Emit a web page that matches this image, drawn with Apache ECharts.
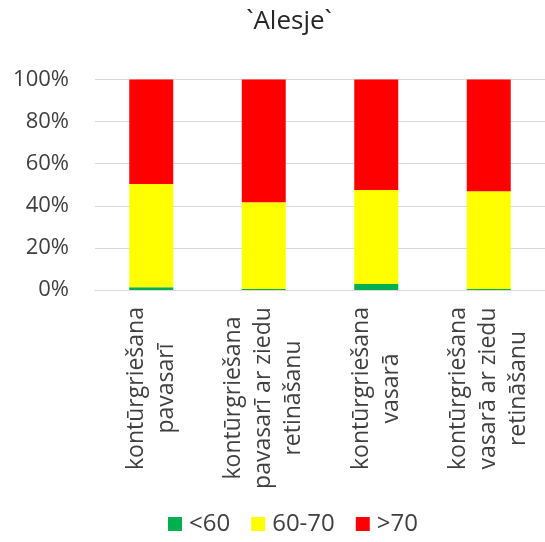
<!DOCTYPE html>
<html>
<head>
<meta charset="utf-8">
<script src="https://cdn.jsdelivr.net/npm/echarts@6/dist/echarts.min.js"></script>
<style>
  html, body { margin: 0; padding: 0; background: #fff; }
  #chart { width: 545px; height: 542px; }
</style>
</head>
<body>
<div id="chart"></div>
<script>
// Share of measurements per class, percent of total for each treatment
const categories = [
  ['kontūrgriešana', 'pavasarī'],
  ['kontūrgriešana', 'pavasarī ar ziedu', 'retināšanu'],
  ['kontūrgriešana', 'vasarā'],
  ['kontūrgriešana', 'vasarā ar ziedu', 'retināšanu']
];
const seriesNames = ['<60', '60-70', '>70'];
const below60 = [1.3, 0.5, 2.8, 0.5];
const from60to70 = [49.1, 41.2, 44.7, 46.4];
const above70 = [49.6, 58.3, 52.5, 53.1];
const yTicks = [0, 20, 40, 60, 80, 100];

const FONT = '"Open Sans", "DejaVu Sans", sans-serif';
const TEXT_COLOR = '#404040';
const LABEL_SIZE = 23;

// Measure each category's longest line so the lines of a label can be centred on each other
const ctx = document.createElement('canvas').getContext('2d');
ctx.font = LABEL_SIZE + 'px ' + FONT;
const rich = {};
categories.forEach((lines, i) => {
  const w = Math.max.apply(null, lines.map(s => ctx.measureText(s).width));
  rich['c' + i] = {
    width: Math.ceil(w),
    align: 'center',
    fontSize: LABEL_SIZE,
    fontFamily: FONT,
    color: TEXT_COLOR,
    lineHeight: 30
  };
});
const catKeys = categories.map((_, i) => String(i));

const chart = echarts.init(document.getElementById('chart'), null, { renderer: 'canvas' });
chart.setOption({
  animation: false,
  backgroundColor: '#ffffff',
  title: {
    text: '`Alesje`',
    left: 284,
    top: 4,
    textAlign: 'center',
    textStyle: { fontFamily: FONT, fontSize: 26, fontWeight: 'normal', color: '#262626' }
  },
  legend: {
    data: seriesNames,
    bottom: 1,
    left: 163,
    icon: 'rect',
    itemWidth: 14,
    itemHeight: 14,
    itemGap: 21,
    textStyle: { fontFamily: FONT, fontSize: 24, color: TEXT_COLOR, padding: [0, 0, 0, 2] }
  },
  grid: { left: 95, right: -4, top: 79.5, bottom: 252, containLabel: false },
  xAxis: {
    type: 'category',
    data: catKeys,
    axisLine: { lineStyle: { color: '#d9d9d9', width: 1 } },
    axisTick: { show: false },
    axisLabel: {
      rotate: 90,
      margin: 17,
      interval: 0,
      formatter: (v) => {
        const i = Number(v);
        return categories[i].map(s => '{c' + i + '|' + s + '}').join('\n');
      },
      rich: rich
    }
  },
  yAxis: {
    type: 'value',
    min: yTicks[0],
    max: yTicks[yTicks.length - 1],
    interval: yTicks[1] - yTicks[0],
    axisLine: { show: false },
    axisTick: { show: false },
    splitLine: { lineStyle: { color: '#d9d9d9', width: 1 } },
    axisLabel: {
      margin: 26,
      formatter: '{value}%',
      fontFamily: FONT,
      fontSize: 22,
      color: TEXT_COLOR
    }
  },
  series: [
    { name: seriesNames[0], type: 'bar', stack: 'total', data: below60, barWidth: 44, itemStyle: { color: '#00B050' } },
    { name: seriesNames[1], type: 'bar', stack: 'total', data: from60to70, barWidth: 44, itemStyle: { color: '#FFFF00' } },
    { name: seriesNames[2], type: 'bar', stack: 'total', data: above70, barWidth: 44, itemStyle: { color: '#FF0000' } }
  ]
});
</script>
</body>
</html>
